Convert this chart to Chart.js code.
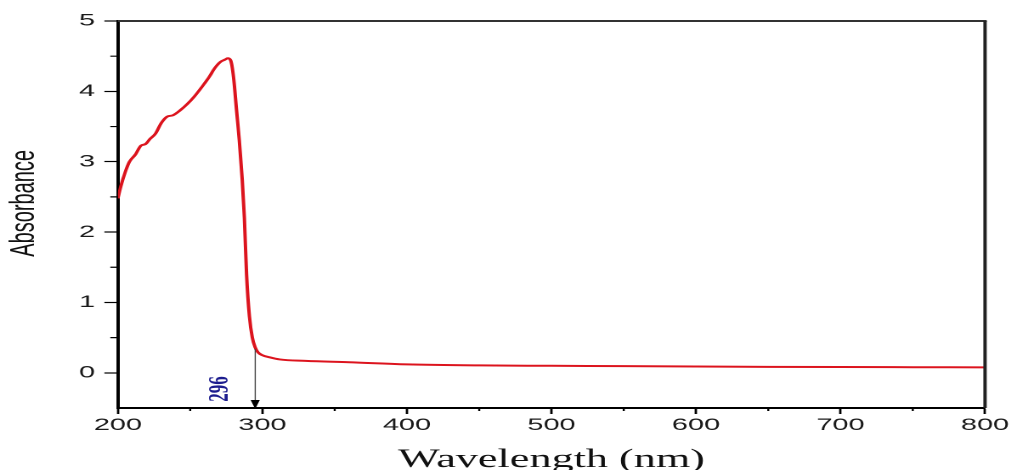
<!DOCTYPE html>
<html>
<head>
<meta charset="utf-8">
<script src="https://cdn.jsdelivr.net/npm/chart.js@4.4.0/dist/chart.umd.min.js"></script>
<style>
  html, body { margin: 0; padding: 0; background: #fff; overflow: hidden; }
  /* the original figure is stretched sideways, so draw narrow and widen it */
  #wrap { width: 595px; height: 470px; transform: scaleX(1.6992); transform-origin: 0 0; }
</style>
</head>
<body>
<div id="wrap"><canvas id="chart" width="595" height="470"></canvas></div>
<script>
// wavelength (nm) and absorbance
var wavelength = [200, 202, 205, 208, 212, 216, 219, 222, 226, 230, 234, 238, 243, 248, 253, 258, 263, 267, 271, 274, 276, 278, 280, 282, 284, 286, 287.5, 289, 291, 293, 295, 297, 300, 305, 312, 330, 360, 400, 450, 500, 550, 600, 650, 700, 750, 800];
var absorbance = [2.48, 2.65, 2.85, 3.0, 3.10, 3.23, 3.25, 3.32, 3.40, 3.55, 3.64, 3.66, 3.73, 3.82, 3.93, 4.06, 4.20, 4.33, 4.42, 4.45, 4.47, 4.44, 4.20, 3.75, 3.30, 2.75, 2.2, 1.4, 0.80, 0.50, 0.36, 0.29, 0.25, 0.22, 0.19, 0.17, 0.15, 0.12, 0.105, 0.10, 0.095, 0.09, 0.085, 0.082, 0.08, 0.078];

var xTicks = [200, 300, 400, 500, 600, 700, 800];
var yTicks = [0, 1, 2, 3, 4, 5];

// onset marker
var onsetLabel = '296';
var onsetX = 295;
var onsetTop = 0.34;
var onsetLabelPos = [271, -0.23];

var points = [];
for (var i = 0; i < wavelength.length; i++) {
    points.push({ x: wavelength[i], y: absorbance[i] });
}

function setTicks(list) {
    return function (scale) {
        scale.ticks = list.map(function (v) { return { value: v }; });
    };
}

// box frame, minor ticks and the onset arrow
var extras = {
    id: 'extras',
    afterDatasetsDraw: function (chart) {
        var ctx = chart.ctx, a = chart.chartArea;
        var xs = chart.scales.x, ys = chart.scales.y;
        ctx.save();
        ctx.strokeStyle = '#333';
        ctx.lineWidth = 2;
        ctx.beginPath();
        ctx.moveTo(a.left, a.top);
        ctx.lineTo(a.right + 1, a.top);
        ctx.stroke();
        ctx.strokeStyle = '#222';
        ctx.beginPath();
        ctx.moveTo(a.right, a.top);
        ctx.lineTo(a.right, a.bottom);
        ctx.stroke();

        // minor ticks halfway between labelled ones
        ctx.strokeStyle = '#000';
        ctx.lineWidth = 1.2;
        ctx.beginPath();
        for (var i = 0; i < xTicks.length - 1; i++) {
            var px = xs.getPixelForValue((xTicks[i] + xTicks[i + 1]) / 2);
            ctx.moveTo(px, a.bottom);
            ctx.lineTo(px, a.bottom + 3);
        }
        for (var j = 0; j < yTicks.length - 1; j++) {
            var py = ys.getPixelForValue((yTicks[j] + yTicks[j + 1]) / 2);
            ctx.moveTo(a.left, py);
            ctx.lineTo(a.left - 4.5, py);
        }
        ctx.stroke();

        // arrow down to the axis
        var ax = xs.getPixelForValue(onsetX);
        var top = ys.getPixelForValue(onsetTop);
        ctx.strokeStyle = '#444';
        ctx.lineWidth = 0.7;
        ctx.beginPath();
        ctx.moveTo(ax, top);
        ctx.lineTo(ax, a.bottom - 6);
        ctx.stroke();
        ctx.fillStyle = '#000';
        ctx.beginPath();
        ctx.moveTo(ax - 2.7, a.bottom - 8);
        ctx.lineTo(ax + 2.7, a.bottom - 8);
        ctx.lineTo(ax, a.bottom + 1);
        ctx.closePath();
        ctx.fill();

        // rotated label
        ctx.translate(xs.getPixelForValue(onsetLabelPos[0]), ys.getPixelForValue(onsetLabelPos[1]));
        ctx.rotate(-Math.PI / 2);
        ctx.fillStyle = '#1c1c8e';
        ctx.font = 'bold 17px "Liberation Serif"';
        ctx.textAlign = 'center';
        ctx.textBaseline = 'middle';
        ctx.fillText(onsetLabel, 0, 0);
        ctx.restore();
    }
};

new Chart(document.getElementById('chart'), {
    type: 'line',
    data: {
        datasets: [{
            label: 'Absorbance',
            data: points,
            borderColor: 'rgb(220, 20, 30)',
            borderWidth: 2,
            pointRadius: 0,
            cubicInterpolationMode: 'monotone',
            fill: false
        }]
    },
    options: {
        responsive: false,
        animation: false,
        devicePixelRatio: 2,
        layout: { padding: { left: 0, right: 15.3, top: 21, bottom: 0 } },
        plugins: {
            legend: { display: false },
            tooltip: { enabled: false }
        },
        scales: {
            x: {
                type: 'linear',
                min: 200,
                max: 800,
                afterBuildTicks: setTicks(xTicks),
                afterFit: function (s) { s.height = 62; },
                grid: { drawOnChartArea: false, tickLength: 6, color: '#000', tickWidth: 1.4 },
                border: { display: true, color: '#000', width: 2 },
                ticks: {
                    color: '#1a1a1a',
                    padding: 1,
                    maxRotation: 0,
                    font: { family: '"Liberation Sans", Arial, sans-serif', size: 17 }
                },
                title: {
                    display: true,
                    text: 'Wavelength (nm)',
                    color: '#111',
                    padding: { top: 0, bottom: -3 },
                    font: { family: '"Liberation Serif", serif', size: 26, lineHeight: 1 }
                }
            },
            y: {
                type: 'linear',
                min: -0.5,
                max: 5,
                afterBuildTicks: setTicks(yTicks),
                afterFit: function (s) { s.width = 69.4; },
                grid: { drawOnChartArea: false, tickLength: 8, color: '#000', tickWidth: 1.2 },
                border: { display: true, color: '#000', width: 2 },
                ticks: {
                    color: '#1a1a1a',
                    padding: 5.5,
                    font: { family: '"Liberation Sans", Arial, sans-serif', size: 17 }
                },
                title: {
                    display: true,
                    text: '    Absorbance',
                    color: '#111',
                    padding: { top: 4.7, bottom: 0 },
                    font: { family: '"Liberation Sans", Arial, sans-serif', size: 20, lineHeight: 1 }
                }
            }
        }
    },
    plugins: [extras]
});
</script>
</body>
</html>
